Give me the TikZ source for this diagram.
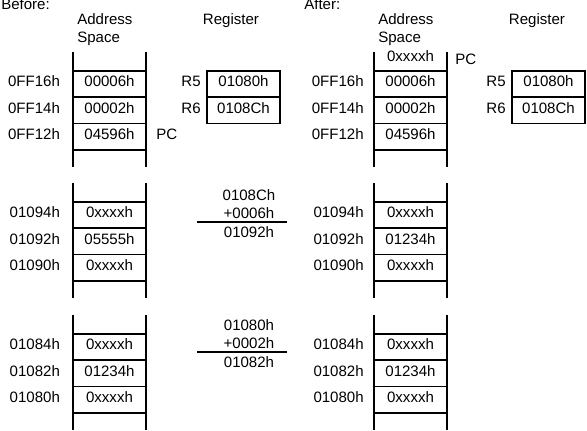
\documentclass[tikz,border=0pt]{standalone}
\usepackage{fontspec}
\setmainfont{Liberation Sans}
\usetikzlibrary{positioning}
\begin{document}
\begin{tikzpicture}[x=0.025cm,y=-0.025cm,
    every node/.style={font=\fontsize{10.7}{12.8}\selectfont,inner sep=0pt},
    txt/.style={text height=7.7pt,text depth=4pt},
    rail/.style={line width=1.2pt},
    cell/.style={txt,draw,line width=1.2pt,outer sep=0pt,
      minimum width=1.825cm,minimum height=0.6575cm},
    addr/.style={txt}]
    \useasboundingbox (0,0) rectangle (587,431);

    % headings
    \node[anchor=base west] (before) at (1,10) {Before:};
    \node[anchor=base west] (after) at (304,10) {After:};
    \node[anchor=base west] (addrB) at (77,25) {Address};
    \node[anchor=base west] (spaceB) at (77,43) {Space};
    \node[anchor=base west] (addrA) at (378,25) {Address};
    \node[anchor=base west] (spaceA) at (378,43) {Space};
    \node[anchor=base] (regB) at (231,25) {Register};
    \node[anchor=base] (regA) at (537,25) {Register};

    % before: memory blocks
    \node[cell] (b1r1) at (109.5,84.15) {00006h};
    \node[cell,below=0pt of b1r1] (b1r2) {00002h};
    \node[cell,below=0pt of b1r2] (b1r3) {04596h};
    \node[cell] (b2r1) at (109.5,215.15) {0xxxxh};
    \node[cell,below=0pt of b2r1] (b2r2) {05555h};
    \node[cell,below=0pt of b2r2] (b2r3) {0xxxxh};
    \node[cell] (b3r1) at (109.5,347.15) {0xxxxh};
    \node[cell,below=0pt of b3r1] (b3r2) {01234h};
    \node[cell,below=0pt of b3r2] (b3r3) {0xxxxh};

    % after: memory blocks
    \node[cell] (a1r1) at (410.5,84.15) {00006h};
    \node[cell,below=0pt of a1r1] (a1r2) {00002h};
    \node[cell,below=0pt of a1r2] (a1r3) {04596h};
    \node[cell] (a2r1) at (410.5,215.15) {0xxxxh};
    \node[cell,below=0pt of a2r1] (a2r2) {01234h};
    \node[cell,below=0pt of a2r2] (a2r3) {0xxxxh};
    \node[cell] (a3r1) at (410.5,347.15) {0xxxxh};
    \node[cell,below=0pt of a3r1] (a3r2) {01234h};
    \node[cell,below=0pt of a3r2] (a3r3) {0xxxxh};
    \node[txt,above=0.08cm of a1r1] (a1r0) {0xxxxh};

    \foreach \blk in {b1,b2,b3,a1,a2,a3}{% open rails above and below
      \draw[rail] (\blk r1.north west) -- ++(0,-19);
      \draw[rail] (\blk r1.north east) -- ++(0,-19);
      \draw[rail] (\blk r3.south west) -- ++(0,17);
      \draw[rail] (\blk r3.south east) -- ++(0,17);
    }

    % addresses
    \node[addr,left=0.32cm of b1r1] (b1a1) {0FF16h};
    \node[addr,left=0.32cm of b1r2] (b1a2) {0FF14h};
    \node[addr,left=0.32cm of b1r3] (b1a3) {0FF12h};
    \node[addr,left=0.32cm of b2r1] (b2a1) {01094h};
    \node[addr,left=0.32cm of b2r2] (b2a2) {01092h};
    \node[addr,left=0.32cm of b2r3] (b2a3) {01090h};
    \node[addr,left=0.32cm of b3r1] (b3a1) {01084h};
    \node[addr,left=0.32cm of b3r2] (b3a2) {01082h};
    \node[addr,left=0.32cm of b3r3] (b3a3) {01080h};
    \node[addr,left=0.25cm of a1r1] (a1a1) {0FF16h};
    \node[addr,left=0.25cm of a1r2] (a1a2) {0FF14h};
    \node[addr,left=0.25cm of a1r3] (a1a3) {0FF12h};
    \node[addr,left=0.25cm of a2r1] (a2a1) {01094h};
    \node[addr,left=0.25cm of a2r2] (a2a2) {01092h};
    \node[addr,left=0.25cm of a2r3] (a2a3) {01090h};
    \node[addr,left=0.25cm of a3r1] (a3a1) {01084h};
    \node[addr,left=0.25cm of a3r2] (a3a2) {01082h};
    \node[addr,left=0.25cm of a3r3] (a3a3) {01080h};

    % program counter
    \node[txt,right=0.25cm of b1r3] (pcB) {PC};
    \node[txt,anchor=west] (pcA) at (455,62.4) {PC};

    % registers
    \node[cell] (b5) at (243.5,84.15) {01080h};
    \node[cell,below=0pt of b5] (b6) {0108Ch};
    \node[txt,left=0.15cm of b5] (b5l) {R5};
    \node[txt,left=0.15cm of b6] (b6l) {R6};
    \node[cell] (a5) at (548.5,84.15) {01080h};
    \node[cell,below=0pt of a5] (a6) {0108Ch};
    \node[txt,left=0.15cm of a5] (a5l) {R5};
    \node[txt,left=0.15cm of a6] (a6l) {R6};

    % effective address sums
    \node[anchor=base] (sumA1) at (249,200.4) {0108Ch};
    \node[anchor=base] (sumA2) at (249,218.4) {+0006h};
    \node[anchor=base] (sumA3) at (249,237.4) {01092h};
    \coordinate (RuleAL) at (197,222);
    \coordinate (RuleAR) at (287,222);
    \draw[rail] (RuleAL) -- (RuleAR);
    \node[anchor=base] (sumB1) at (249,330.4) {01080h};
    \node[anchor=base] (sumB2) at (249,348.4) {+0002h};
    \node[anchor=base] (sumB3) at (249,367.4) {01082h};
    \coordinate (RuleBL) at (197,352);
    \coordinate (RuleBR) at (287,352);
    \draw[rail] (RuleBL) -- (RuleBR);
  \end{tikzpicture}
\end{document}
